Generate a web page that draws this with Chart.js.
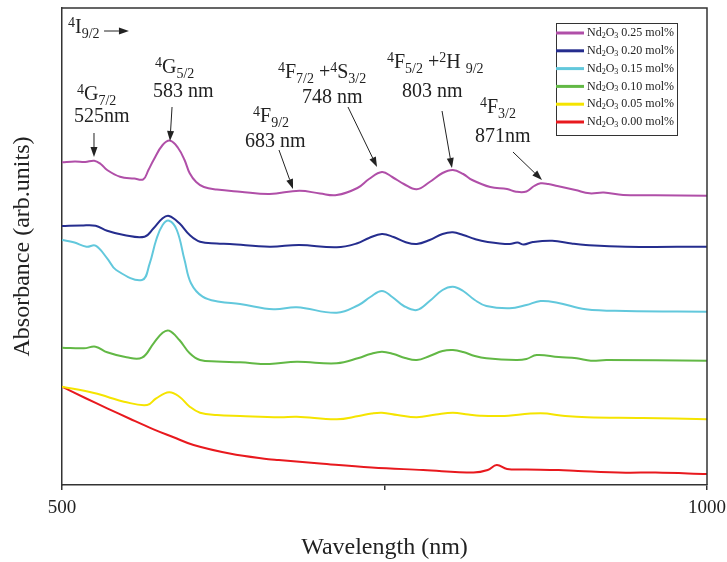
<!DOCTYPE html>
<html><head><meta charset="utf-8">
<script src="https://cdn.jsdelivr.net/npm/chart.js@4.4.1/dist/chart.umd.min.js"></script>
<style>html,body{margin:0;padding:0;background:#fff}#wrap{width:727px;height:562px}</style>
</head><body><div id="wrap"><canvas id="c" width="727" height="562"></canvas></div>
<script>
// ---- data (wavelength nm, absorbance arb. units) ----
const wl025 = [500,510,518,525,530,535,545,556,563,567,571,578,584,590,595,599,604,610,620,638,661,684,700,713,729,738,748,756,765,775,785,795,803,811,818,832,845,852,860,866,871,877,884,898,909,920,935,960,1000];
const abs025 = [3.227,3.235,3.23,3.243,3.21,3.15,3.083,3.065,3.057,3.15,3.25,3.40,3.443,3.37,3.25,3.117,3.03,2.98,2.955,2.933,2.91,2.943,2.915,2.90,2.97,3.06,3.13,3.08,3.01,2.957,3.03,3.12,3.15,3.11,3.05,2.98,2.96,2.933,2.935,2.99,3.017,3.01,2.99,2.95,2.917,2.925,2.90,2.897,2.893];
const wl020 = [500,515,526,535,548,564,571,578,583,591,599,607,620,630,661,684,713,729,738,748,757,766,775,785,795,803,811,820,829,847,853,858,865,880,895,906,937,1000];
const abs020 = [2.59,2.595,2.593,2.543,2.50,2.483,2.567,2.667,2.69,2.617,2.50,2.433,2.415,2.41,2.383,2.40,2.377,2.417,2.47,2.51,2.48,2.43,2.41,2.45,2.51,2.527,2.50,2.46,2.433,2.41,2.425,2.405,2.43,2.443,2.415,2.40,2.383,2.383];
const wl015 = [500,509,519,526,535,542,562,568,573,578,583,589,595,600,609,622,638,664,682,713,730,739,748,756,765,775,785,795,803,811,820,829,847,860,871,884,906,937,1000];
const abs015 = [2.45,2.427,2.383,2.393,2.267,2.15,2.05,2.217,2.45,2.60,2.643,2.55,2.25,2.017,1.883,1.833,1.81,1.757,1.777,1.723,1.80,1.88,1.94,1.88,1.79,1.75,1.84,1.95,1.983,1.94,1.85,1.79,1.767,1.80,1.84,1.823,1.757,1.74,1.733];
const wl010 = [500,517,526,535,550,562,571,578,583,591,599,607,620,638,661,682,713,730,739,748,757,766,775,785,795,803,811,820,829,852,860,868,885,899,910,922,1000];
const abs010 = [1.373,1.367,1.383,1.327,1.277,1.273,1.417,1.523,1.543,1.45,1.317,1.25,1.235,1.227,1.21,1.233,1.217,1.27,1.31,1.333,1.31,1.27,1.25,1.29,1.34,1.35,1.33,1.29,1.267,1.25,1.26,1.30,1.28,1.267,1.243,1.25,1.243];
const wl005 = [500,524,535,548,566,573,583,591,599,607,620,638,669,682,713,730,740,748,760,775,790,803,815,824,840,871,890,907,950,1000];
const abs005 = [0.983,0.923,0.883,0.833,0.80,0.867,0.927,0.883,0.783,0.723,0.70,0.69,0.677,0.683,0.657,0.69,0.715,0.723,0.70,0.677,0.705,0.723,0.705,0.693,0.69,0.717,0.69,0.677,0.67,0.657];
const wl000 = [500,518,535,553,571,586,602,630,660,668,700,740,780,819,830,837,845,860,885,900,937,960,1000];
const abs000 = [0.983,0.87,0.767,0.66,0.557,0.48,0.40,0.315,0.258,0.25,0.215,0.175,0.15,0.125,0.15,0.20,0.16,0.155,0.15,0.14,0.123,0.125,0.11];

const seriesLabels = ['Nd₂O₃ 0.25 mol%','Nd₂O₃ 0.20 mol%','Nd₂O₃ 0.15 mol%','Nd₂O₃ 0.10 mol%','Nd₂O₃ 0.05 mol%','Nd₂O₃ 0.00 mol%'];
const seriesColors = ['#B04FA8','#252D8E','#62C8DC','#62B845','#F5E400','#E8191E'];
const xTicks = [500, 750, 1000];
const xTickLabels = ['500', '', '1000'];

// peak annotations (anchored in data units)
const annoTexts = [
  {wl:504.7, v:4.52, parts:[['4','sup'],['I'],['9/2','sub']]},
  {wl:572.1, v:4.12, parts:[['4','sup'],['G'],['5/2','sub']]},
  {wl:570.5, v:3.88, parts:[['583 nm']]},
  {wl:511.6, v:3.85, parts:[['4','sup'],['G'],['7/2','sub']]},
  {wl:509.3, v:3.63, parts:[['525nm']]},
  {wl:648.1, v:3.63, parts:[['4','sup'],['F'],['9/2','sub']]},
  {wl:641.9, v:3.38, parts:[['683 nm']]},
  {wl:667.4, v:4.07, parts:[['4','sup'],['F'],['7/2','sub'],[' +'],['4','sup'],['S'],['3/2','sub']]},
  {wl:686.0, v:3.82, parts:[['748 nm']]},
  {wl:751.9, v:4.17, parts:[['4','sup'],['F'],['5/2','sub'],[' +'],['2','sup'],['H '],['9/2','sub']]},
  {wl:763.6, v:3.88, parts:[['803 nm']]},
  {wl:824.0, v:3.72, parts:[['4','sup'],['F'],['3/2','sub']]},
  {wl:820.2, v:3.43, parts:[['871nm']]}
];
const annoArrows = [
  [532.6,4.54,551.9,4.54],
  [585.3,3.78,583.7,3.44],
  [524.8,3.52,524.8,3.28],
  [668.2,3.35,679.1,2.96],
  [721.7,3.78,744.2,3.18],
  [794.6,3.74,802.3,3.17],
  [849.6,3.33,872.1,3.05]
];

const serif = '"Liberation Serif","Times New Roman",serif';
const wls = [wl025, wl020, wl015, wl010, wl005, wl000];
const abss = [abs025, abs020, abs015, abs010, abs005, abs000];

function drawRich(ctx, x, y, parts, size) {
  let cx = x;
  for (const p of parts) {
    const kind = p[1] || '';
    const fs = kind ? Math.round(size * 0.7) : size;
    ctx.font = fs + 'px ' + serif;
    let dy = 0;
    if (kind === 'sup') dy = -size * 0.3;
    if (kind === 'sub') dy = size * 0.25;
    ctx.fillText(p[0], cx, y + dy);
    cx += ctx.measureText(p[0]).width;
  }
}
function drawSubLabel(ctx, str, x, y, size) {
  const map = {'₀':'0','₁':'1','₂':'2','₃':'3','₄':'4','₅':'5','₆':'6','₇':'7','₈':'8','₉':'9'};
  const parts = [];
  for (const ch of str) {
    if (map[ch]) parts.push([map[ch], 'sub']);
    else if (parts.length && !parts[parts.length-1][1]) parts[parts.length-1][0] += ch;
    else parts.push([ch]);
  }
  drawRich(ctx, x, y, parts, size);
}
function arrow(ctx, x1, y1, x2, y2) {
  const ang = Math.atan2(y2 - y1, x2 - x1), L = 10, W = 3.5;
  const bx = x2 - L * Math.cos(ang), by = y2 - L * Math.sin(ang);
  ctx.beginPath(); ctx.moveTo(x1, y1); ctx.lineTo(bx, by); ctx.stroke();
  ctx.beginPath();
  ctx.moveTo(x2, y2);
  ctx.lineTo(bx + W * Math.sin(ang), by - W * Math.cos(ang));
  ctx.lineTo(bx - W * Math.sin(ang), by + W * Math.cos(ang));
  ctx.closePath(); ctx.fill();
}

const overlay = {
  id: 'overlay',
  afterDraw(chart) {
    const {ctx, chartArea: a, scales: {x, y}} = chart;
    ctx.save();
    // frame top/right
    ctx.strokeStyle = '#333'; ctx.lineWidth = 1.5;
    ctx.beginPath(); ctx.moveTo(a.left, a.top); ctx.lineTo(a.right, a.top); ctx.lineTo(a.right, a.bottom); ctx.stroke();
    // legend box
    const lx = a.right - 151, ly = a.top + 15, lw = 121, lh = 112;
    ctx.fillStyle = '#fff'; ctx.fillRect(lx, ly, lw, lh);
    ctx.strokeStyle = '#333'; ctx.lineWidth = 1; ctx.strokeRect(lx + 0.5, ly + 0.5, lw, lh);
    ctx.textBaseline = 'middle'; ctx.textAlign = 'left';
    chart.data.datasets.forEach((ds, i) => {
      const ry = ly + 10 + i * 17.8;
      ctx.strokeStyle = ds.borderColor; ctx.lineWidth = 3;
      ctx.beginPath(); ctx.moveTo(lx, ry); ctx.lineTo(lx + 28, ry); ctx.stroke();
      ctx.fillStyle = '#222';
      drawSubLabel(ctx, ds.label, lx + 31, ry, 12);
    });
    // annotations
    ctx.fillStyle = '#222'; ctx.textBaseline = 'alphabetic';
    for (const t of annoTexts) {
      drawRich(ctx, x.getPixelForValue(t.wl), y.getPixelForValue(t.v), t.parts, 20);
    }
    ctx.strokeStyle = '#222'; ctx.lineWidth = 1;
    for (const ar of annoArrows) {
      arrow(ctx, x.getPixelForValue(ar[0]), y.getPixelForValue(ar[1]), x.getPixelForValue(ar[2]), y.getPixelForValue(ar[3]));
    }
    ctx.restore();
  }
};

new Chart(document.getElementById('c'), {
  type: 'line',
  data: {
    datasets: seriesLabels.map((lab, i) => ({
      label: lab,
      data: wls[i].map((w, k) => ({x: w, y: abss[i][k]})),
      borderColor: seriesColors[i],
      backgroundColor: seriesColors[i],
      borderWidth: 2,
      pointRadius: 0,
      fill: false,
      tension: 0.4
    }))
  },
  options: {
    responsive: false, animation: false, devicePixelRatio: 1,
    layout: {padding: {left: 0, right: 20, top: 8, bottom: 0}},
    plugins: {legend: {display: false}, tooltip: {enabled: false}},
    scales: {
      x: {
        type: 'linear', min: 500, max: 1000,
        afterBuildTicks: s => { s.ticks = xTicks.map(v => ({value: v})); },
        ticks: {callback: v => xTickLabels[xTicks.indexOf(v)], font: {family: serif, size: 19}, color: '#222', maxRotation: 0, padding: 7, autoSkip: false},
        grid: {drawOnChartArea: false, drawTicks: true, tickLength: 5, color: '#333', lineWidth: 1.5},
        border: {display: true, color: '#333', width: 1.5},
        title: {display: true, text: 'Wavelength (nm)', font: {family: serif, size: 24}, color: '#222', padding: {top: 0, bottom: 0}},
        afterFit: s => { s.height = 77; s.paddingLeft = 0; s.paddingRight = 0; }
      },
      y: {
        min: 0, max: 4.77,
        ticks: {display: false},
        grid: {drawOnChartArea: false, drawTicks: false},
        border: {display: true, color: '#333', width: 1.5},
        title: {display: true, text: 'Absorbance (arb.units)', font: {family: serif, size: 24}, color: '#222', padding: {top: 8, bottom: 0}},
        afterFit: s => { s.width = 62; s.paddingTop = 0; s.paddingBottom = 0; }
      }
    }
  },
  plugins: [overlay]
});
</script>
</body></html>
